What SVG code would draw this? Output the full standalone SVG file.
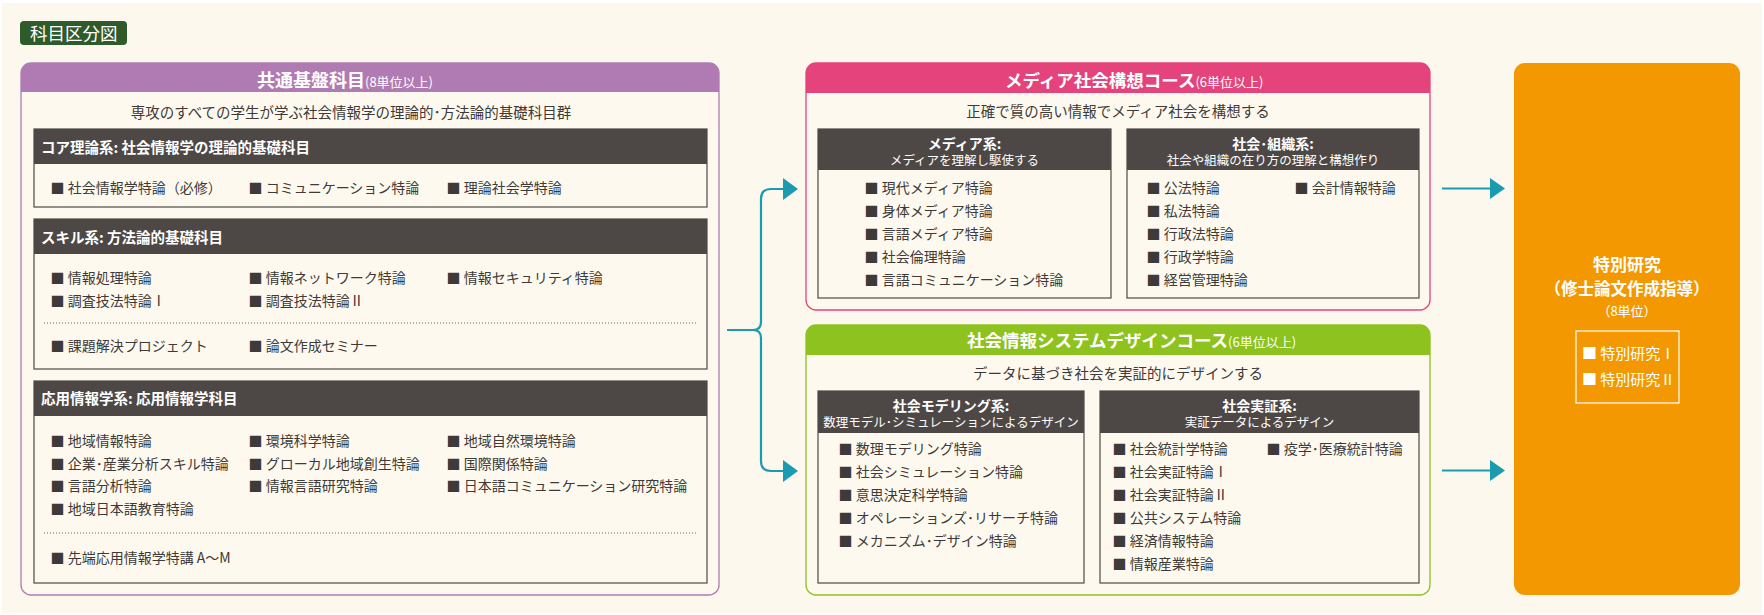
<svg xmlns="http://www.w3.org/2000/svg" width="1764" height="615" viewBox="0 0 1764 615">
<defs>
<style>
text{font-family:"Noto Sans CJK JP","Noto Sans CJK SC",sans-serif}
.it{font-size:14px;fill:#3e3a39}
.sub{font-size:14.5px;fill:#3e3a39;text-anchor:middle}
.hd{font-size:14.5px;font-weight:bold;fill:#fff}
.hdc{font-size:14px;font-weight:bold;fill:#fff;text-anchor:middle}
.sm{font-size:12.5px;font-weight:normal}
.tt{font-size:17.5px;font-weight:bold;fill:#fff}
.un{font-size:13px;font-weight:normal;fill:#fff}
.bar{fill:#4d4846}
.box{fill:#fdf9ee;stroke:#4d4846;stroke-width:1.2}
.dot{stroke:#6b6663;stroke-width:1;stroke-dasharray:1 2}
.con{fill:none;stroke:#1b9bb0;stroke-width:2.2}
.ah{fill:#1b9bb0}
.wt{font-size:15px;fill:#fff}
</style>
</defs>
<rect x="0" y="0" width="1764" height="615" fill="#ffffff"/>
<rect x="2" y="3" width="1760" height="610" fill="#fcf8ed"/>

<g id="label">
<rect x="20" y="21" width="107" height="24" rx="4" fill="#2f5b2c"/>
<text x="30" y="39.5" style="font-size:17.5px;fill:#fff">科目区分図</text>
</g>

<g id="kyotsu">
<rect x="21" y="63" width="698" height="532" rx="10" fill="#fdf9ee" stroke="#b07bb3" stroke-width="1.3"/>
<path d="M21,92 V73 A10,10 0 0 1 31,63 H709 A10,10 0 0 1 719,73 V92 Z" fill="#b07bb3"/>
<text x="257" y="87" class="tt" style="font-size:18px">共通基盤科目<tspan class="un">(8単位以上)</tspan></text>
<text x="351" y="117.5" class="sub">専攻のすべての学生が学ぶ社会情報学の理論的･方法論的基礎科目群</text>

<g id="core">
<rect x="34" y="129" width="673" height="78" class="box"/>
<rect x="34" y="129" width="673" height="35" class="bar"/>
<text x="41" y="152.5" class="hd">コア理論系: 社会情報学の理論的基礎科目</text>
<text x="50.5" y="193.3" class="it">■ 社会情報学特論（必修）</text>
<text x="248.5" y="193.3" class="it">■ コミュニケーション特論</text>
<text x="446.5" y="193.3" class="it">■ 理論社会学特論</text>
</g>

<g id="skill">
<rect x="34" y="219" width="673" height="150" class="box"/>
<rect x="34" y="219" width="673" height="35" class="bar"/>
<text x="41" y="242.5" class="hd">スキル系: 方法論的基礎科目</text>
<text x="50.5" y="283.3" class="it">■ 情報処理特論</text>
<text x="248.5" y="283.3" class="it">■ 情報ネットワーク特論</text>
<text x="446.5" y="283.3" class="it">■ 情報セキュリティ特論</text>
<text x="50.5" y="306.3" class="it">■ 調査技法特論Ⅰ</text>
<text x="248.5" y="306.3" class="it">■ 調査技法特論Ⅱ</text>
<line x1="44" y1="323" x2="698" y2="323" class="dot"/>
<text x="50.5" y="351.3" class="it">■ 課題解決プロジェクト</text>
<text x="248.5" y="351.3" class="it">■ 論文作成セミナー</text>
</g>

<g id="applied">
<rect x="34" y="381" width="673" height="202" class="box"/>
<rect x="34" y="381" width="673" height="35" class="bar"/>
<text x="41" y="404" class="hd">応用情報学系: 応用情報学科目</text>
<text x="50.5" y="446.3" class="it">■ 地域情報特論</text>
<text x="248.5" y="446.3" class="it">■ 環境科学特論</text>
<text x="446.5" y="446.3" class="it">■ 地域自然環境特論</text>
<text x="50.5" y="468.8" class="it">■ 企業･産業分析スキル特論</text>
<text x="248.5" y="468.8" class="it">■ グローカル地域創生特論</text>
<text x="446.5" y="468.8" class="it">■ 国際関係特論</text>
<text x="50.5" y="491.3" class="it">■ 言語分析特論</text>
<text x="248.5" y="491.3" class="it">■ 情報言語研究特論</text>
<text x="446.5" y="491.3" class="it">■ 日本語コミュニケーション研究特論</text>
<text x="50.5" y="513.8" class="it">■ 地域日本語教育特論</text>
<line x1="44" y1="533" x2="698" y2="533" class="dot"/>
<text x="50.5" y="563.3" class="it">■ 先端応用情報学特講 A～M</text>
</g>
</g>

<g id="media">
<rect x="806" y="63" width="624" height="247" rx="10" fill="#fdf9ee" stroke="#e4437b" stroke-width="1.3"/>
<path d="M806,93 V73 A10,10 0 0 1 816,63 H1420 A10,10 0 0 1 1430,73 V93 Z" fill="#e4437b"/>
<text x="1005" y="87" class="tt">メディア社会構想コース<tspan class="un">(6単位以上)</tspan></text>
<text x="1118" y="116.5" class="sub">正確で質の高い情報でメディア社会を構想する</text>

<g id="media-kei">
<rect x="818" y="129" width="293" height="169" class="box"/>
<rect x="818" y="129" width="293" height="41" class="bar"/>
<text x="964.5" y="148.5" class="hdc">メディア系:<tspan x="964.5" y="165" class="sm">メディアを理解し駆使する</tspan></text>
<text x="864.5" y="193.3" class="it">■ 現代メディア特論</text>
<text x="864.5" y="216.3" class="it">■ 身体メディア特論</text>
<text x="864.5" y="239.3" class="it">■ 言語メディア特論</text>
<text x="864.5" y="262.3" class="it">■ 社会倫理特論</text>
<text x="864.5" y="285.3" class="it">■ 言語コミュニケーション特論</text>
</g>

<g id="soshiki-kei">
<rect x="1127" y="129" width="292" height="169" class="box"/>
<rect x="1127" y="129" width="292" height="41" class="bar"/>
<text x="1273" y="148.5" class="hdc">社会･組織系:<tspan x="1273" y="165" class="sm">社会や組織の在り方の理解と構想作り</tspan></text>
<text x="1146.5" y="193.3" class="it">■ 公法特論</text>
<text x="1146.5" y="216.3" class="it">■ 私法特論</text>
<text x="1146.5" y="239.3" class="it">■ 行政法特論</text>
<text x="1146.5" y="262.3" class="it">■ 行政学特論</text>
<text x="1146.5" y="285.3" class="it">■ 経営管理特論</text>
<text x="1294.5" y="193.3" class="it">■ 会計情報特論</text>
</g>
</g>

<g id="social">
<rect x="806" y="325" width="624" height="270" rx="10" fill="#fdf9ee" stroke="#8dc21f" stroke-width="1.3"/>
<path d="M806,355 V335 A10,10 0 0 1 816,325 H1420 A10,10 0 0 1 1430,335 V355 Z" fill="#8dc21f"/>
<text x="967" y="347" class="tt">社会情報システムデザインコース<tspan class="un">(6単位以上)</tspan></text>
<text x="1118" y="378.5" class="sub">データに基づき社会を実証的にデザインする</text>

<g id="modeling-kei">
<rect x="818" y="391" width="266" height="192" class="box"/>
<rect x="818" y="391" width="266" height="42" class="bar"/>
<text x="951" y="410.5" class="hdc">社会モデリング系:<tspan x="951" y="427" class="sm">数理モデル･シミュレーションによるデザイン</tspan></text>
<text x="838.5" y="454.3" class="it">■ 数理モデリング特論</text>
<text x="838.5" y="477.3" class="it">■ 社会シミュレーション特論</text>
<text x="838.5" y="500.3" class="it">■ 意思決定科学特論</text>
<text x="838.5" y="523.3" class="it">■ オペレーションズ･リサーチ特論</text>
<text x="838.5" y="546.3" class="it">■ メカニズム･デザイン特論</text>
</g>

<g id="jissho-kei">
<rect x="1100" y="391" width="319" height="192" class="box"/>
<rect x="1100" y="391" width="319" height="42" class="bar"/>
<text x="1259.5" y="410.5" class="hdc">社会実証系:<tspan x="1259.5" y="427" class="sm">実証データによるデザイン</tspan></text>
<text x="1112.5" y="454.3" class="it">■ 社会統計学特論</text>
<text x="1112.5" y="477.3" class="it">■ 社会実証特論Ⅰ</text>
<text x="1112.5" y="500.3" class="it">■ 社会実証特論Ⅱ</text>
<text x="1112.5" y="523.3" class="it">■ 公共システム特論</text>
<text x="1112.5" y="546.3" class="it">■ 経済情報特論</text>
<text x="1112.5" y="569.3" class="it">■ 情報産業特論</text>
<text x="1266.5" y="454.3" class="it">■ 疫学･医療統計特論</text>
</g>
</g>

<g id="tokubetsu">
<rect x="1514" y="63" width="226" height="532" rx="11" fill="#f39800"/>
<text x="1627" y="270.5" class="tt" style="font-size:17px;text-anchor:middle">特別研究<tspan x="1627" y="295" style="font-size:16.5px">（修士論文作成指導）</tspan><tspan x="1627" y="315.5" class="un">（8単位）</tspan></text>
<rect x="1576" y="331" width="103" height="72" fill="none" stroke="#fff" stroke-width="1.2"/>
<text x="1582" y="358.5" class="wt">■ 特別研究Ⅰ<tspan x="1582" y="384.5">■ 特別研究Ⅱ</tspan></text>
</g>

<g id="connectors">
<path class="con" d="M727,330 H753 Q761,330 761,322 V199 Q761,189 771,189 H785"/>
<path class="con" d="M753,330 Q761,330 761,338 V461 Q761,471 771,471 H785"/>
<polygon class="ah" points="783,178 798,189 783,200"/>
<polygon class="ah" points="783,460 798,471 783,482"/>
<path class="con" d="M1442,188.5 H1492"/>
<path class="con" d="M1442,470.5 H1492"/>
<polygon class="ah" points="1490,178 1505,188.5 1490,199"/>
<polygon class="ah" points="1490,460 1505,470.5 1490,481"/>
</g>
</svg>
